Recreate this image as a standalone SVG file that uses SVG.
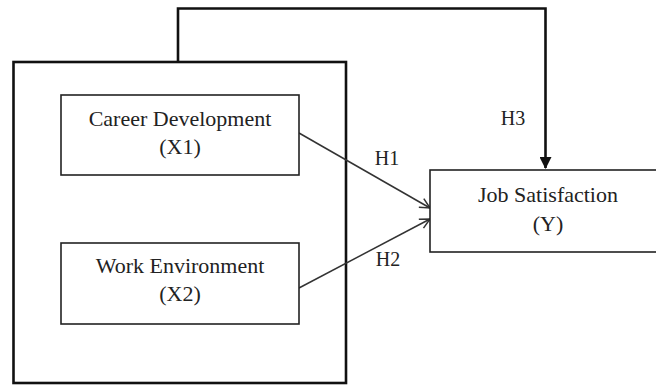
<svg xmlns="http://www.w3.org/2000/svg" width="656" height="385" viewBox="0 0 656 385">
<style>
.thick{fill:none;stroke:#111;stroke-width:2.6}
.box{fill:#fff;stroke:#222;stroke-width:1.6}
.ln{fill:none;stroke:#333;stroke-width:1.5}
text{font-family:"Liberation Serif","Times New Roman",serif;fill:#222;text-anchor:middle}
.t{font-size:22px}
.h{font-size:20px}
</style>
<defs>
<marker id="open" viewBox="0 0 12 12" refX="11" refY="6" markerWidth="12" markerHeight="12" markerUnits="userSpaceOnUse" orient="auto">
<path d="M1,1 L11,6 L1,11" fill="none" stroke="#333" stroke-width="1.5"/>
</marker>
<marker id="solid" viewBox="0 0 12 12" refX="11" refY="6" markerWidth="14" markerHeight="12" markerUnits="userSpaceOnUse" orient="auto">
<path d="M0,0 L12,6 L0,12 Z" fill="#111"/>
</marker>
</defs>
<g id="group-x">
<rect class="thick" x="13.5" y="62" width="332.5" height="321"/>
</g>
<g id="connectors">
<path class="thick" d="M178,62 V8.5 H545.5 V168" marker-end="url(#solid)"/>
<line class="ln" x1="299" y1="133" x2="430" y2="208" marker-end="url(#open)"/>
<line class="ln" x1="299" y1="288" x2="430" y2="219" marker-end="url(#open)"/>
<text class="h" x="513" y="125">H3</text>
<text class="h" x="387" y="165">H1</text>
<text class="h" x="388" y="266">H2</text>
</g>
<g id="career">
<rect class="box" x="61" y="95" width="238" height="80"/>
<text class="t" x="180" y="126">Career Development</text>
<text class="t" x="180" y="154">(X1)</text>
</g>
<g id="work">
<rect class="box" x="61" y="243" width="238" height="81"/>
<text class="t" x="180" y="273">Work Environment</text>
<text class="t" x="180" y="301">(X2)</text>
</g>
<g id="job">
<rect class="box" x="430" y="170" width="240" height="82"/>
<text class="t" x="548" y="202">Job Satisfaction</text>
<text class="t" x="548" y="231">(Y)</text>
</g>
</svg>
